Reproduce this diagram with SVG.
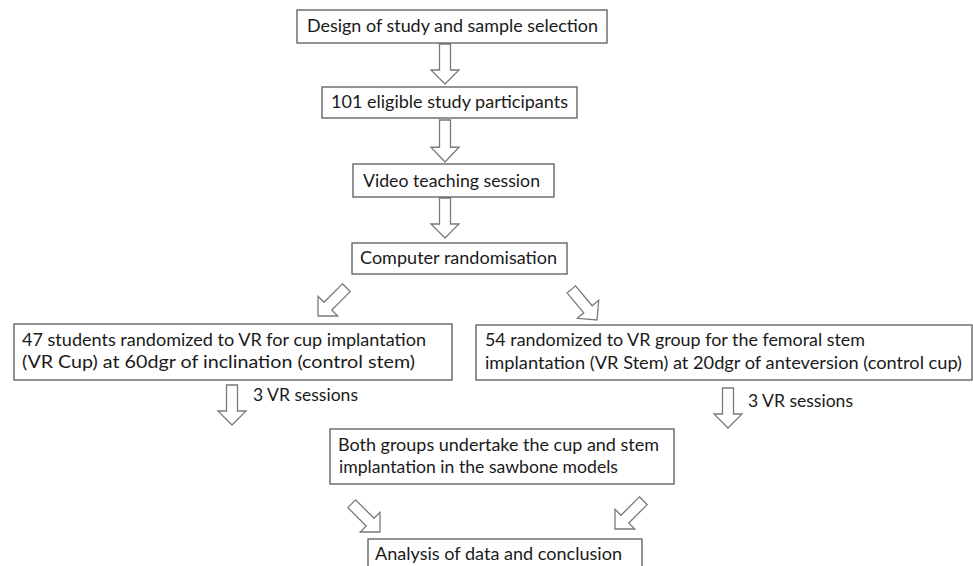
<svg xmlns="http://www.w3.org/2000/svg" width="973" height="566" viewBox="0 0 973 566">
<style>
.box{fill:#fff;stroke:#5a5a5a;stroke-width:1.3}
.t{font-family:Lato,"Open Sans","Liberation Sans",sans-serif;font-size:17px;fill:#1a1a1a}
.arr{fill:#fff;stroke:#7a7a7a;stroke-width:1.3;stroke-linejoin:miter}
</style>
<defs>
<path id="dn" d="M-5.5,-40 L5.5,-40 L5.5,-14 L14,-14 L0,0 L-14,-14 L-5.5,-14 Z"/>
</defs>
<rect width="973" height="566" fill="#fff"/>
<g id="connectors">
<use href="#dn" class="arr" transform="translate(445,84)"/>
<use href="#dn" class="arr" transform="translate(445,162) scale(1,1.05)"/>
<use href="#dn" class="arr" transform="translate(445,238)"/>
<use href="#dn" class="arr" transform="translate(318,316) rotate(45)"/>
<use href="#dn" class="arr" transform="translate(597,320) rotate(-40)"/>
<use href="#dn" class="arr" transform="translate(232,425)"/>
<use href="#dn" class="arr" transform="translate(728,428)"/>
<use href="#dn" class="arr" transform="translate(380,532) rotate(-45)"/>
<use href="#dn" class="arr" transform="translate(615,529) rotate(45)"/>
</g>
<g id="n1"><rect class="box" x="297" y="10" width="310" height="33"/><text class="t" x="307" y="32" textLength="291" lengthAdjust="spacingAndGlyphs">Design of study and sample selection</text></g>
<g id="n2"><rect class="box" x="322" y="87" width="255" height="31"/><text class="t" x="331" y="108" textLength="237" lengthAdjust="spacingAndGlyphs">101 eligible study participants</text></g>
<g id="n3"><rect class="box" x="353" y="164" width="201" height="33"/><text class="t" x="363" y="187" textLength="177" lengthAdjust="spacingAndGlyphs">Video teaching session</text></g>
<g id="n4"><rect class="box" x="352" y="243" width="215" height="31"/><text class="t" x="360" y="264" textLength="197" lengthAdjust="spacingAndGlyphs">Computer randomisation</text></g>
<g id="n5"><rect class="box" x="14" y="324" width="438" height="56"/><text class="t" x="22" y="346" textLength="404" lengthAdjust="spacingAndGlyphs">47 students randomized to VR for cup implantation</text><text class="t" x="22" y="368" textLength="393" lengthAdjust="spacingAndGlyphs">(VR Cup) at 60dgr of inclination (control stem)</text></g>
<g id="n6"><rect class="box" x="476" y="325" width="496" height="55"/><text class="t" x="485" y="346" textLength="380" lengthAdjust="spacingAndGlyphs">54 randomized to VR group for the femoral stem</text><text class="t" x="485" y="369" textLength="477" lengthAdjust="spacingAndGlyphs">implantation (VR Stem) at 20dgr of anteversion (control cup)</text></g>
<g id="l1"><text class="t" x="253" y="401" textLength="105" lengthAdjust="spacingAndGlyphs">3 VR sessions</text></g>
<g id="l2"><text class="t" x="748" y="407" textLength="105" lengthAdjust="spacingAndGlyphs">3 VR sessions</text></g>
<g id="n7"><rect class="box" x="330" y="429" width="344" height="55"/><text class="t" x="338" y="451" textLength="321" lengthAdjust="spacingAndGlyphs">Both groups undertake the cup and stem</text><text class="t" x="339" y="473" textLength="279" lengthAdjust="spacingAndGlyphs">implantation in the sawbone models</text></g>
<g id="n8"><rect class="box" x="368" y="539" width="274" height="40"/><text class="t" x="375" y="560" textLength="247" lengthAdjust="spacingAndGlyphs">Analysis of data and conclusion</text></g>
</svg>
